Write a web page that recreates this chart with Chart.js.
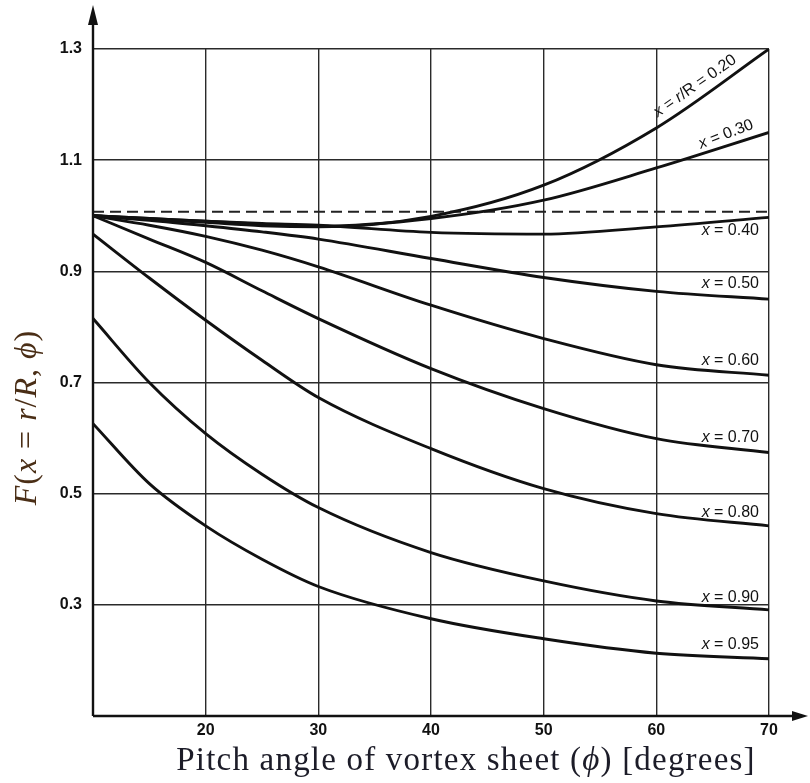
<!DOCTYPE html>
<html>
<head>
<meta charset="utf-8">
<script src="https://cdn.jsdelivr.net/npm/chart.js@4.4.1/dist/chart.umd.min.js"></script>
<style>
  html, body { margin: 0; padding: 0; background: #fff; }
  #wrap { width: 810px; height: 783px; }
</style>
</head>
<body>
<div id="wrap"><canvas id="graphe" width="810" height="783"></canvas></div>
<script>
// pitch angle of the vortex sheet (degrees)
const phi = [10, 15, 20, 25, 30, 40, 50, 60, 70];

// F(x = r/R, phi), one array per radial station
const f020 = [1.000, 0.994, 0.988, 0.982, 0.980, 0.999, 1.055, 1.158, 1.300];
const f030 = [1.000, 0.995, 0.990, 0.985, 0.981, 0.995, 1.028, 1.086, 1.150];
const f040 = [1.000, 0.995, 0.990, 0.986, 0.983, 0.970, 0.967, 0.980, 0.997];
const f050 = [1.000, 0.992, 0.982, 0.971, 0.958, 0.923, 0.889, 0.864, 0.850];
const f060 = [1.000, 0.983, 0.963, 0.938, 0.908, 0.839, 0.779, 0.732, 0.713];
const f070 = [1.000, 0.958, 0.916, 0.865, 0.815, 0.725, 0.653, 0.599, 0.574];
const f080 = [0.967, 0.888, 0.812, 0.740, 0.673, 0.581, 0.509, 0.464, 0.442];
const f090 = [0.815, 0.700, 0.608, 0.535, 0.475, 0.394, 0.343, 0.307, 0.291];
const f095 = [0.626, 0.518, 0.442, 0.382, 0.333, 0.275, 0.239, 0.213, 0.203];

const radii = ["0.20", "0.30", "0.40", "0.50", "0.60", "0.70", "0.80", "0.90", "0.95"];

// dashed reference line F = 1
const refPhi = [10, 70];
const refF = [1.007, 1.007];

// tick labels
const xTicks = [20, 30, 40, 50, 60, 70];
const yTicks = [0.3, 0.5, 0.7, 0.9, 1.1, 1.3];

const series = [f020, f030, f040, f050, f060, f070, f080, f090, f095];

// where each curve name sits, relative to the curve's last point
const labelSpots = [
  { dx: -74, dy: 37, rot: -35, align: "center" },
  { dx: -43, dy: 2, rot: -21, align: "center" },
  { dx: -10, dy: 13, rot: 0, align: "right" },
  { dx: -10, dy: -16, rot: 0, align: "right" },
  { dx: -10, dy: -15, rot: 0, align: "right" },
  { dx: -10, dy: -15, rot: 0, align: "right" },
  { dx: -10, dy: -13, rot: 0, align: "right" },
  { dx: -10, dy: -12, rot: 0, align: "right" },
  { dx: -10, dy: -14, rot: 0, align: "right" }
];

const sans = "'Liberation Sans', Arial, sans-serif";
const serif = "'Liberation Serif', 'Times New Roman', serif";

// draws a row of text pieces with different fonts, starting at x
function drawRuns(ctx, runs, x, y, align) {
  let total = 0;
  runs.forEach(r => { ctx.font = r[1]; total += ctx.measureText(r[0]).width; });
  let cx = x;
  if (align === "center") cx = x - total / 2;
  if (align === "right") cx = x - total;
  ctx.textAlign = "left";
  runs.forEach(r => {
    ctx.font = r[1];
    ctx.fillText(r[0], cx, y);
    cx += ctx.measureText(r[0]).width;
  });
}

function curveName(i) {
  const up = "16px " + sans, it = "italic 16px " + sans;
  if (i === 0) return [["x", it], [" = ", up], ["r", it], ["/R = " + radii[0], up]];
  return [["x", it], [" = " + radii[i], up]];
}

const decor = {
  id: "decor",
  afterDraw(chart) {
    const c = chart.ctx;
    const { left, right, top, bottom } = chart.chartArea;
    c.save();

    // axes with arrow heads
    c.strokeStyle = "#111";
    c.fillStyle = "#111";
    c.lineWidth = 2.4;
    c.beginPath();
    c.moveTo(left, bottom); c.lineTo(right + 26, bottom);
    c.moveTo(left, bottom); c.lineTo(left, top - 26);
    c.stroke();
    c.beginPath();
    c.moveTo(right + 39, bottom); c.lineTo(right + 23, bottom - 5); c.lineTo(right + 23, bottom + 5);
    c.closePath(); c.fill();
    c.beginPath();
    c.moveTo(left, top - 44); c.lineTo(left - 5, top - 24); c.lineTo(left + 5, top - 24);
    c.closePath(); c.fill();

    // curve names
    c.fillStyle = "#111";
    c.textBaseline = "middle";
    series.forEach((s, i) => {
      const pts = chart.getDatasetMeta(i).data;
      const end = pts[pts.length - 1];
      const spot = labelSpots[i];
      c.save();
      c.translate(end.x + spot.dx, end.y + spot.dy);
      c.rotate(spot.rot * Math.PI / 180);
      drawRuns(c, curveName(i), 0, 0, spot.align);
      c.restore();
    });

    // axis titles
    c.textBaseline = "alphabetic";
    c.letterSpacing = "1.2px";
    c.fillStyle = "#1c1c28";
    const up = "33px " + serif, it = "italic 33px " + serif;
    drawRuns(c, [["Pitch angle of vortex sheet (", up], ["\u03d5", it], [") [degrees]", up]],
      (left + right) / 2 + 35, bottom + 54, "center");

    c.letterSpacing = "1px";
    c.fillStyle = "#4a2e16";
    c.save();
    c.translate(36, (top + bottom) / 2 + 35);
    c.rotate(-Math.PI / 2);
    const yu = "32px " + serif, yi = "italic 32px " + serif;
    drawRuns(c, [["F", yi], ["(", yu], ["x", yi], [" = ", yu], ["r", yi], ["/", yu], ["R", yi],
      [", ", yu], ["\u03d5", yi], [")", yu]], 0, 0, "center");
    c.restore();

    c.restore();
  }
};

const ctx = document.getElementById("graphe");

const datasets = series.map((vals, i) => ({
  label: "x = " + radii[i],
  data: vals.map((v, k) => ({ x: phi[k], y: v })),
  borderColor: "#111",
  borderWidth: 2.9,
  pointRadius: 0,
  cubicInterpolationMode: "monotone",
  fill: false
}));
datasets.push({
  label: "F = 1",
  data: refPhi.map((p, k) => ({ x: p, y: refF[k] })),
  borderColor: "#222",
  borderWidth: 2,
  borderDash: [11, 6],
  pointRadius: 0,
  fill: false
});

const chart = new Chart(ctx, {
  type: "line",
  data: { datasets },
  options: {
    responsive: false,
    animation: false,
    layout: { padding: { top: 49, right: 41, left: 0, bottom: 0 } },
    plugins: { legend: { display: false }, tooltip: { enabled: false } },
    scales: {
      x: {
        type: "linear",
        min: 10,
        max: 70,
        afterBuildTicks: s => { s.ticks = xTicks.map(v => ({ value: v })); },
        afterFit: s => { s.height = 67; },
        ticks: {
          color: "#111",
          padding: 5,
          maxRotation: 0,
          font: { family: sans, size: 16, weight: "bold" },
          callback: v => String(v)
        },
        grid: { color: "#2a2a2a", lineWidth: 1.4, drawTicks: false },
        border: { display: false }
      },
      y: {
        min: 0.1,
        max: 1.3,
        afterBuildTicks: s => { s.ticks = yTicks.map(v => ({ value: v })); },
        afterFit: s => { s.width = 93; },
        ticks: {
          color: "#111",
          padding: 11,
          font: { family: sans, size: 16, weight: "bold" },
          callback: v => v.toFixed(1)
        },
        grid: { color: "#2a2a2a", lineWidth: 1.4, drawTicks: false },
        border: { display: false }
      }
    }
  },
  plugins: [decor]
});
</script>
</body>
</html>
